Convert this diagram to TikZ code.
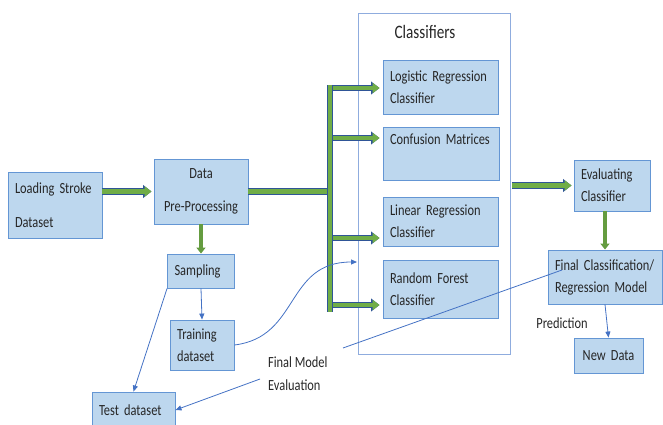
\documentclass[tikz,border=0pt]{standalone}
\usepackage{fontspec}
\setmainfont{Carlito}[FakeStretch=0.8]
\usetikzlibrary{arrows.meta, positioning}
\definecolor{boxfill}{RGB}{189,215,238}
\definecolor{boxline}{RGB}{100,150,212}
\definecolor{outline}{RGB}{143,172,222}
\definecolor{arrgreen}{RGB}{112,173,71}
\definecolor{arrline}{RGB}{47,85,151}
\definecolor{linkblue}{RGB}{68,114,196}
\definecolor{ink}{RGB}{38,38,38}

\begin{document}
\begin{tikzpicture}[x=1pt, y=-1pt,
  pbox/.style={draw=boxline, fill=boxfill, line width=0.9pt, align=left, inner xsep=7pt, inner ysep=0pt, font=\fontsize{15.5}{22}\selectfont, text=ink},
  tnote/.style={align=left, inner sep=0pt, font=\fontsize{15.5}{23}\selectfont, text=ink},
  gflow/.style={draw=arrgreen, line width=4.5pt, -{Triangle[length=7pt,width=10pt]}, preaction={draw=arrline, line width=6.3pt, -{Triangle[length=8.5pt,width=12.5pt]}}},
  gbar/.style={draw=arrgreen, line width=4.5pt, preaction={draw=arrline, line width=6.3pt}},
  gdown/.style={draw=arrgreen!90!black, line width=4pt, -{Triangle[length=6pt,width=9pt]}},
  link/.style={draw=linkblue, line width=0.8pt, -{Triangle[length=6pt,width=5pt]}}
]
  \useasboundingbox (0,0) rectangle (663,425);

  \node[pbox, text width=80pt, minimum height=66pt] (load) at (55,205) {Loading Stroke\\[12pt]Dataset};
  \node[pbox, align=center, text width=80pt, minimum height=65pt] (prep) at (201,191.5) {Data\\[11pt]Pre-Processing};
  \node[pbox, text width=53pt, minimum height=34pt] (sampling) at (201,271) {Sampling};
  \node[pbox, text width=50pt, minimum height=50pt] (train) at (202,345) {Training\\dataset};
  \node[pbox, text width=69pt, minimum height=36pt] (test) at (133.5,410) {Test dataset};

  \node[draw=outline, line width=0.9pt, minimum width=152pt, minimum height=341pt, inner sep=0pt] (clsbox) at (434,183.5) {};
  \node[tnote, font=\fontsize{19}{22}\selectfont] (clstitle) at (425,32) {Classifiers};
  \node[pbox, text width=101pt, minimum height=54pt] (logreg) at (440.5,87) {Logistic Regression\\Classifier};
  \node[pbox, text width=102pt, minimum height=53pt] (confm) at (441,153.5) {Confusion Matrices\\\strut};
  \node[pbox, text width=101pt, minimum height=49pt] (linreg) at (440.5,221.5) {Linear Regression\\Classifier};
  \node[pbox, text width=101pt, minimum height=58pt] (rforest) at (440.5,289) {Random Forest\\Classifier};

  \node[pbox, text width=62pt, minimum height=51pt] (evalc) at (612,185.5) {Evaluating\\Classifier};
  \node[pbox, text width=100pt, minimum height=54pt] (finalm) at (605,277) {Final Classification/\\Regression Model};
  \node[pbox, align=center, text width=55pt, minimum height=35pt] (newdata) at (608.5,355.5) {New Data};
  \node[tnote] (pred) at (562,323) {Prediction};
  \node[tnote, anchor=west] (fme) at (268,374) {Final Model\\Evaluation};

  \coordinate (btop) at (330,85);
  \coordinate (bbot) at (330,312);
  \coordinate (b1) at (330,88);
  \coordinate (b2) at (330,138);
  \coordinate (b3) at (330,238);
  \coordinate (b4) at (330,305);
  \coordinate (cin) at (357,262);
  \coordinate (fmin) at (562,270);
  \coordinate (fmout) at (343,348);
  \coordinate (fmtail) at (260,379);

  \draw[gflow, shorten >=2pt] (load.east |- prep.west) -- (prep.west);
  \draw[gbar] (prep.east) -- (prep.east -| btop);
  \draw[gflow, shorten >=3pt] (b1) -- (b1 -| logreg.west);
  \draw[gflow, shorten >=3pt] (b2) -- (b2 -| confm.west);
  \draw[gflow, shorten >=3pt] (b3) -- (b3 -| linreg.west);
  \draw[gflow, shorten >=3pt] (b4) -- (b4 -| rforest.west);
  \draw[gbar] (btop) -- (bbot);
  \draw[gflow, shorten <=2pt, shorten >=2pt] (clsbox.east |- evalc.west) -- (evalc.west);
  \draw[gdown] (prep.south -| sampling.north) -- (sampling.north);
  \draw[gdown] (evalc.south -| finalm.north) -- (finalm.north);

  \draw[link] (sampling.south) -- (train.north);
  \draw[link] (sampling.south west) -- (test.north);
  \draw[link] (train.east) .. controls (300,337) and (285,262) .. (cin);
  \draw[draw=linkblue, line width=0.8pt] (fmin) -- (fmout);
  \draw[link] (fmtail) -- (test.east);
  \draw[link] (finalm.south) -- (newdata.north);
\end{tikzpicture}
\end{document}
